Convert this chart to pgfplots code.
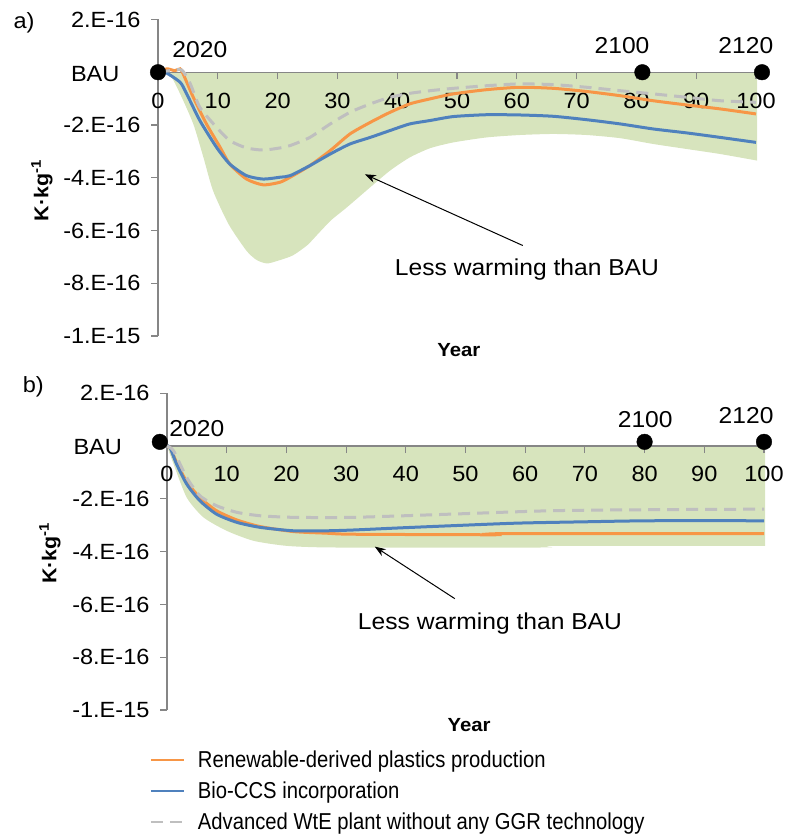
\documentclass[border=0pt]{standalone}
\usepackage{fontspec}
\setmainfont{Liberation Sans}[FakeStretch=1.07]
\newfontfamily\legendfont{Liberation Sans}[FakeStretch=0.88]
\usepackage{pgfplots}
\pgfplotsset{compat=1.18}
\usetikzlibrary{arrows.meta}

\definecolor{seriesOrange}{RGB}{247,150,70}
\definecolor{seriesBlue}{RGB}{79,129,189}
\definecolor{seriesGray}{RGB}{191,191,191}
\definecolor{rangeGreen}{RGB}{215,228,189}
\definecolor{axisGray}{RGB}{134,134,134}

\newcommand{\tickfont}{\fontsize{22}{26}\selectfont}
\newcommand{\notefont}{\fontsize{23}{27}\selectfont}

\pgfplotsset{
  panel/.style={
    set layers,
    scale only axis, width=598pt, height=316.5pt,
    xmin=0, xmax=100, ymin=-10, ymax=2,
    axis y line=left, axis x line=middle,
    x axis line style={-}, y axis line style={-},
    axis line style={draw=axisGray, line width=1.2pt},
    tick align=outside,
    major tick length=7pt,
    tick style={draw=axisGray, line width=1.1pt},
    hide obscured x ticks=false,
    xtick={0,10,...,100},
    ytick={-10,-8,-6,-4,-2,2},
    yticklabels={-1.E-15,-8.E-16,-6.E-16,-4.E-16,-2.E-16,2.E-16},
    /pgf/number format/assume math mode=true,
    ticklabel style={font=\tickfont, text=black},
    xticklabel style={yshift=-10pt},
    yticklabel style={xshift=-7pt},
    clip=false,
    xlabel={Year},
    ylabel={K·kg\textsuperscript{-1}},
  },
  orangeline/.style={seriesOrange, line width=3pt, smooth, tension=0.4},
  blueline/.style={seriesBlue, line width=3pt, smooth, tension=0.4},
  grayline/.style={seriesGray, line width=3pt, dash pattern=on 12pt off 7pt, smooth, tension=0.4},
  rangefill/.style={draw=none, fill=rangeGreen, forget plot, smooth, tension=0.4, on layer=axis background},
}

\begin{document}
\begin{tikzpicture}
\path (0,0) rectangle (788pt,836pt);

% ---------------- panel a ----------------
\begin{axis}[panel, at={(158pt,500pt)}, anchor=south west,
  every axis x label/.style={at={(axis description cs:0.503,-0.044)}, anchor=center,
    font=\fontsize{19}{22}\selectfont\bfseries},
  every axis y label/.style={at={(axis description cs:-0.194,0.46)}, anchor=center, rotate=90,
    font=\fontsize{20}{24}\selectfont\bfseries},
]
% range of outcomes
\addplot[rangefill] coordinates {
  (0,0) (2,-0.1) (3.7,-0.82) (5.9,-1.96) (7.6,-3.23) (9.2,-4.49) (11.8,-5.76)
  (14.8,-6.77) (16.5,-7.12) (18.2,-7.25) (20,-7.15) (22.5,-6.95) (25,-6.55)
  (27,-6.07) (29,-5.6) (31.6,-5.12) (35.5,-4.36) (38.8,-3.73) (42.1,-3.23)
  (45.5,-2.88) (49.4,-2.66) (55,-2.47) (60.5,-2.38) (66.1,-2.34) (71.7,-2.38)
  (77.3,-2.5) (82.8,-2.72) (88.4,-2.91) (94,-3.1) (100.2,-3.35)
} \closedcycle;

\addplot[orangeline] coordinates {
  (0,0) (1.5,0.13) (2.8,0.06) (3.7,0.13) (4.2,-0.06) (5.9,-0.95) (8.1,-1.96)
  (10.4,-2.85) (12.0,-3.48) (14.8,-4.05) (17.6,-4.27) (20.4,-4.17) (22.1,-3.98)
  (25.4,-3.54) (28.8,-2.97) (32.1,-2.34) (35.5,-1.90) (38.8,-1.52) (42.1,-1.20)
  (45.5,-1.01) (49.4,-0.82) (55,-0.66) (60.5,-0.57) (66.1,-0.61) (71.7,-0.73)
  (77.3,-0.89) (82.8,-1.08) (88.4,-1.24) (94,-1.39) (100,-1.58)
};
\addplot[blueline] coordinates {
  (0,0) (1.2,0) (3.7,-0.38) (4.8,-0.82) (7.0,-1.83) (9.8,-2.85) (12.0,-3.48)
  (14.8,-3.92) (17.6,-4.05) (20.4,-3.98) (22.1,-3.92) (25.4,-3.54) (28.8,-3.10)
  (32.1,-2.72) (35.5,-2.47) (38.8,-2.21) (42.1,-1.96) (45.5,-1.83) (49.4,-1.68)
  (55,-1.61) (60.5,-1.62) (66.1,-1.67) (71.7,-1.80) (77.3,-1.96) (82.8,-2.15)
  (88.4,-2.30) (94,-2.47) (100,-2.66)
};
\addplot[grayline] coordinates {
  (0,0) (2.0,0.06) (4.0,0.08) (5.4,-0.44) (7.0,-1.33) (9.8,-2.09) (12.0,-2.59)
  (14.8,-2.87) (17.6,-2.95) (20.4,-2.87) (22.1,-2.78) (25.4,-2.47) (28.8,-1.96)
  (32.1,-1.52) (35.5,-1.20) (38.8,-0.95) (42.1,-0.80) (45.5,-0.70) (49.4,-0.61)
  (55,-0.51) (60.5,-0.44) (66.1,-0.47) (71.7,-0.57) (77.3,-0.70) (82.8,-0.82)
  (88.4,-0.95) (94,-1.08) (100,-1.14)
};
% milestone years
\addplot[only marks, mark=*, mark size=7.8pt, black, forget plot] coordinates {(0,0) (81,0) (101,0)};

\node[font=\notefont] at (axis cs:7.0,0.87) {2020};
\node[font=\notefont] at (axis cs:77.6,1.02) {2100};
\node[font=\notefont] at (axis cs:98.3,1.02) {2120};
\node[font=\tickfont] at (axis cs:-10.5,-0.05) {BAU};
\node[font=\tickfont] at (axis description cs:-0.224,0.99) {a)};
\node[font=\notefont] at (axis cs:61.7,-7.48) {Less warming than BAU};
\draw[-{Stealth[length=11pt,width=8pt]}, line width=1pt] (axis cs:61.0,-6.57) -- (axis cs:34.6,-3.87);
\end{axis}

% ---------------- panel b ----------------
\begin{axis}[panel, at={(167pt,126pt)}, anchor=south west, width=597pt, height=316.7pt,
  every axis x label/.style={at={(axis description cs:0.506,-0.047)}, anchor=center,
    font=\fontsize{19}{22}\selectfont\bfseries},
  every axis y label/.style={at={(axis description cs:-0.196,0.496)}, anchor=center, rotate=90,
    font=\fontsize{20}{24}\selectfont\bfseries},
  legend style={draw=none, fill=none, inner sep=0pt, outer sep=0pt,
    at={(axis description cs:-0.0285,-0.122)}, anchor=north west,
    font=\legendfont\fontsize{23}{27}\selectfont, row sep=9pt,
    nodes={inner sep=2pt, text=black},
    /tikz/every odd column/.append style={column sep=11pt}},
  legend cell align=left,
  legend image code/.code={\draw[#1, line width=2pt] (0pt,0pt) -- (33pt,0pt);},
]
\addplot[rangefill] coordinates {
  (0,0) (1.1,-0.68) (3.3,-1.95) (6.1,-2.7) (10,-3.21) (14.5,-3.59) (20,-3.78)
  (26.7,-3.84) (45,-3.85) (64,-3.84) (65,-3.78) (100.2,-3.78)
} \closedcycle;

\addplot[orangeline] coordinates {
  (0,0) (0.5,-0.05) (1.6,-0.62) (3.3,-1.35) (5.5,-1.95) (8.3,-2.45) (11.7,-2.80)
  (15.6,-3.05) (21.2,-3.24) (26.7,-3.30) (31.2,-3.34) (55,-3.36) (56,-3.32) (100,-3.32)
};
\addplot[blueline] coordinates {
  (0,0) (0.5,-0.05) (1.6,-0.68) (3.3,-1.44) (5.5,-2.07) (8.3,-2.58) (11.7,-2.89)
  (15.6,-3.08) (21.2,-3.21) (26.7,-3.21) (31.2,-3.18) (39,-3.10) (47.4,-3.02)
  (58.6,-2.92) (69.8,-2.87) (80.9,-2.83) (100,-2.83)
};
\addplot[grayline] coordinates {
  (0,0) (1.1,-0.18) (3.3,-1.19) (5.5,-1.88) (8.3,-2.26) (11.7,-2.51) (15.6,-2.64)
  (21.2,-2.70) (31.2,-2.70) (47.4,-2.58) (64.2,-2.45) (80.9,-2.41) (100,-2.39)
};
\addplot[only marks, mark=*, mark size=7.8pt, black, forget plot] coordinates {(-1.2,0.16) (80,0.16) (100,0.16)};
\legend{Renewable-derived plastics production, Bio-CCS incorporation, Advanced WtE plant without any GGR technology}

\node[font=\notefont] at (axis cs:5.0,0.66) {2020};
\node[font=\notefont] at (axis cs:80.1,1.0) {2100};
\node[font=\notefont] at (axis cs:97,1.15) {2120};
\node[font=\tickfont] at (axis cs:-11.6,-0.05) {BAU};
\node[font=\tickfont] at (axis description cs:-0.224,1.02) {b)};
\node[font=\notefont] at (axis cs:54.1,-6.73) {Less warming than BAU};
\draw[-{Stealth[length=11pt,width=8pt]}, line width=1pt] (axis cs:48.2,-5.78) -- (axis cs:34.8,-3.81);
\end{axis}
\end{tikzpicture}
\end{document}
